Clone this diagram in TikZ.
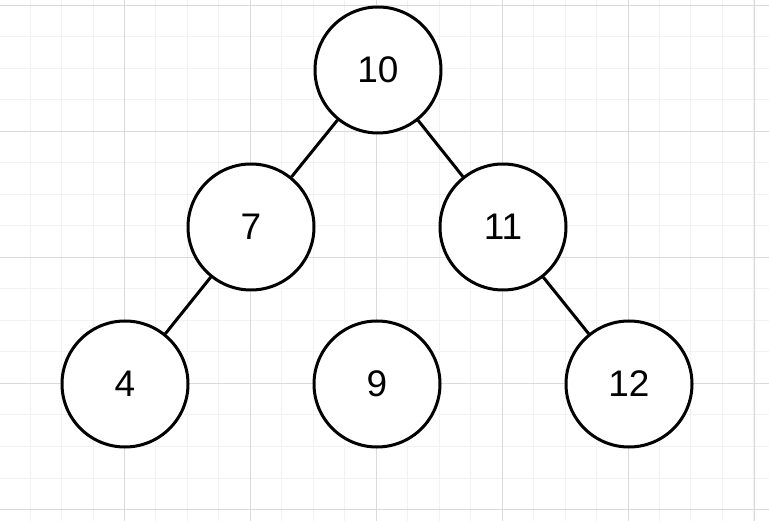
\documentclass[tikz,border=0pt]{standalone}
\usepackage{fontspec}
\setmainfont{Liberation Sans}
\definecolor{minorgrid}{HTML}{F2F2F2}
\definecolor{majorgrid}{HTML}{DADADA}
\begin{document}
\begin{tikzpicture}[x=1pt,y=-1pt,
  treenode/.style={circle, draw=black, line width=3pt, minimum size=126pt, inner sep=0pt, fill=white, font=\fontsize{37}{40}\selectfont},
  edge/.style={line width=3pt, black},
  minorline/.style={draw=minorgrid, line width=1pt},
  majorline/.style={draw=majorgrid, line width=1pt}]
\useasboundingbox (0,0) rectangle (769,521);
\fill[white] (0,0) rectangle (769,521);
\foreach \i in {0,...,25} {\draw[minorline] ({-1.4+31.47*\i},0) -- ({-1.4+31.47*\i},521);}
\foreach \j in {0,...,16} {\draw[minorline] (0,{5.5+31.5*\j}) -- (769,{5.5+31.5*\j});}
\foreach \i in {0,...,6} {\draw[majorline] ({-1.4+125.9*\i},0) -- ({-1.4+125.9*\i},521);}
\foreach \j in {0,...,4} {\draw[majorline] (0,{5.5+126*\j}) -- (769,{5.5+126*\j});}
\node[treenode] (n10) at (378,70) {10};
\node[treenode] (n7) at (251,227) {7};
\node[treenode] (n11) at (503,227) {11};
\node[treenode] (n4) at (125,384) {4};
\node[treenode] (n9) at (377,384) {9};
\node[treenode] (n12) at (629,384) {12};
\draw[edge] (n10) -- (n7);
\draw[edge] (n10) -- (n11);
\draw[edge] (n7) -- (n4);
\draw[edge] (n11) -- (n12);
\end{tikzpicture}
\end{document}
